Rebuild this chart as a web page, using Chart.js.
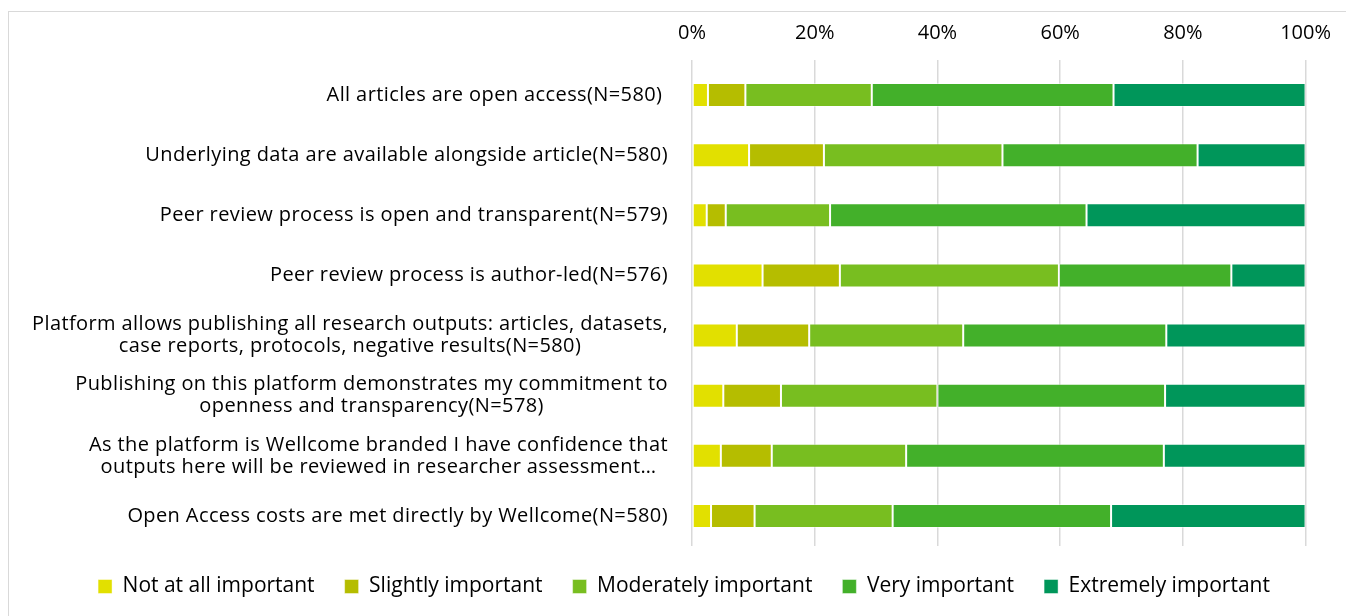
<!DOCTYPE html>
<html lang="en">
  <head>
    <meta charset="UTF-8" />
    <title>Platform features importance</title>
    <script src="https://cdn.jsdelivr.net/npm/chart.js@4.4.1/dist/chart.umd.min.js"></script>
    <style>
      body { margin: 0; background: #fff; }
      #wrap { position: relative; width: 1346px; height: 616px; }
      /* light frame round the chart, like the exported picture */
      #frame { position: absolute; left: 8px; top: 11px; width: 1346px; height: 616px;
               border: 1px solid #d9d9d9; pointer-events: none; }
    </style>
  </head>

  <body>
    <div id="wrap">
      <canvas id="myChart"></canvas>
      <div id="frame"></div>
    </div>

  <script>
    // categories (top to bottom)
    const categories = [
      'All articles are open access(N=580) ',
      'Underlying data are available alongside article(N=580)',
      'Peer review process is open and transparent(N=579)',
      'Peer review process is author-led(N=576)',
      ['Platform allows publishing all research outputs: articles, datasets,', 'case reports, protocols, negative results(N=580)'],
      ['Publishing on this platform demonstrates my commitment to', 'openness and transparency(N=578)'],
      ['As the platform is Wellcome branded I have confidence that', 'outputs here will be reviewed in researcher assessment\u2026'],
      'Open Access costs are met directly by Wellcome(N=580)'
    ];

    // percentages per answer
    const notAtAll   = [2.6, 9.3, 2.4, 11.5, 7.3, 5.1, 4.7, 3.1];
    const slightly   = [6.1, 12.2, 3.1, 12.6, 11.8, 9.4, 8.3, 7.1];
    const moderately = [20.6, 29.1, 17.0, 35.7, 25.1, 25.5, 21.9, 22.5];
    const very       = [39.4, 31.8, 41.8, 28.1, 33.1, 37.1, 42.0, 35.6];
    const extremely  = [31.3, 17.6, 35.7, 12.1, 22.7, 22.9, 23.1, 31.7];

    const xTicks = [0, 20, 40, 60, 80, 100];

    const FONT = '"Open Sans"';
    const PAD_LEFT = 58;

    function ds(label, values, color) {
      return {
        label: label,
        data: values,
        backgroundColor: color,
        borderColor: 'rgba(255,255,255,0.45)',
        borderWidth: 1,
        borderSkipped: false,
        barPercentage: 0.4,
        categoryPercentage: 1.0
      };
    }

    const data = {
      labels: categories,
      datasets: [
        ds('Not at all important', notAtAll, '#e2e000'),
        ds('Slightly important', slightly, '#b5bd00'),
        ds('Moderately important', moderately, '#78be20'),
        ds('Very important', very, '#43b02a'),
        ds('Extremely important', extremely, '#00965a')
      ]
    };

    // category labels: right aligned block, lines centred inside it
    const catLabels = {
      id: 'catLabels',
      afterDraw(chart) {
        const ctx = chart.ctx;
        const y = chart.scales.y;
        const right = chart.chartArea.left - 24;
        ctx.save();
        ctx.font = '20px ' + FONT;
        ctx.letterSpacing = '0.4px';
        ctx.fillStyle = '#000';
        ctx.textAlign = 'center';
        ctx.textBaseline = 'middle';
        chart.data.labels.forEach((lab, i) => {
          const lines = Array.isArray(lab) ? lab : [lab];
          const w = Math.max(...lines.map(l => ctx.measureText(l).width));
          const cx = right - w / 2;
          const cy = y.getPixelForValue(i);
          lines.forEach((l, j) => {
            ctx.fillText(l, cx, cy + (j - (lines.length - 1) / 2) * 22);
          });
        });
        ctx.restore();
      }
    };

    const config = {
      type: 'bar',
      data: data,
      plugins: [catLabels],
      options: {
        indexAxis: 'y',
        responsive: true,
        maintainAspectRatio: false,
        animation: false,
        layout: { padding: { top: 0, right: 36, bottom: 9, left: PAD_LEFT } },
        scales: {
          x: {
            position: 'top',
            stacked: true,
            min: 0,
            max: 100,
            afterBuildTicks: (s) => { s.ticks = xTicks.map(v => ({ value: v })); },
            afterFit: (s) => { s.height = 65; },
            grid: { color: '#d9d9d9', lineWidth: 1.5, drawTicks: true, tickLength: 5 },
            border: { display: false },
            ticks: {
              padding: 15,
              color: '#000',
              font: { family: FONT, size: 20 },
              callback: (v) => v + '%'
            }
          },
          y: {
            stacked: true,
            afterFit: (s) => { s.width = 692 - PAD_LEFT; },
            grid: { display: false },
            border: { display: false },
            ticks: { display: false }
          }
        },
        plugins: {
          legend: {
            position: 'bottom',
            labels: {
              boxWidth: 14,
              boxHeight: 14,
              padding: 30,
              color: '#000',
              font: { family: FONT, size: 21 }
            }
          },
          tooltip: { enabled: false }
        }
      }
    };

    const myChart = new Chart(document.getElementById('myChart'), config);
  </script>
  </body>
</html>
